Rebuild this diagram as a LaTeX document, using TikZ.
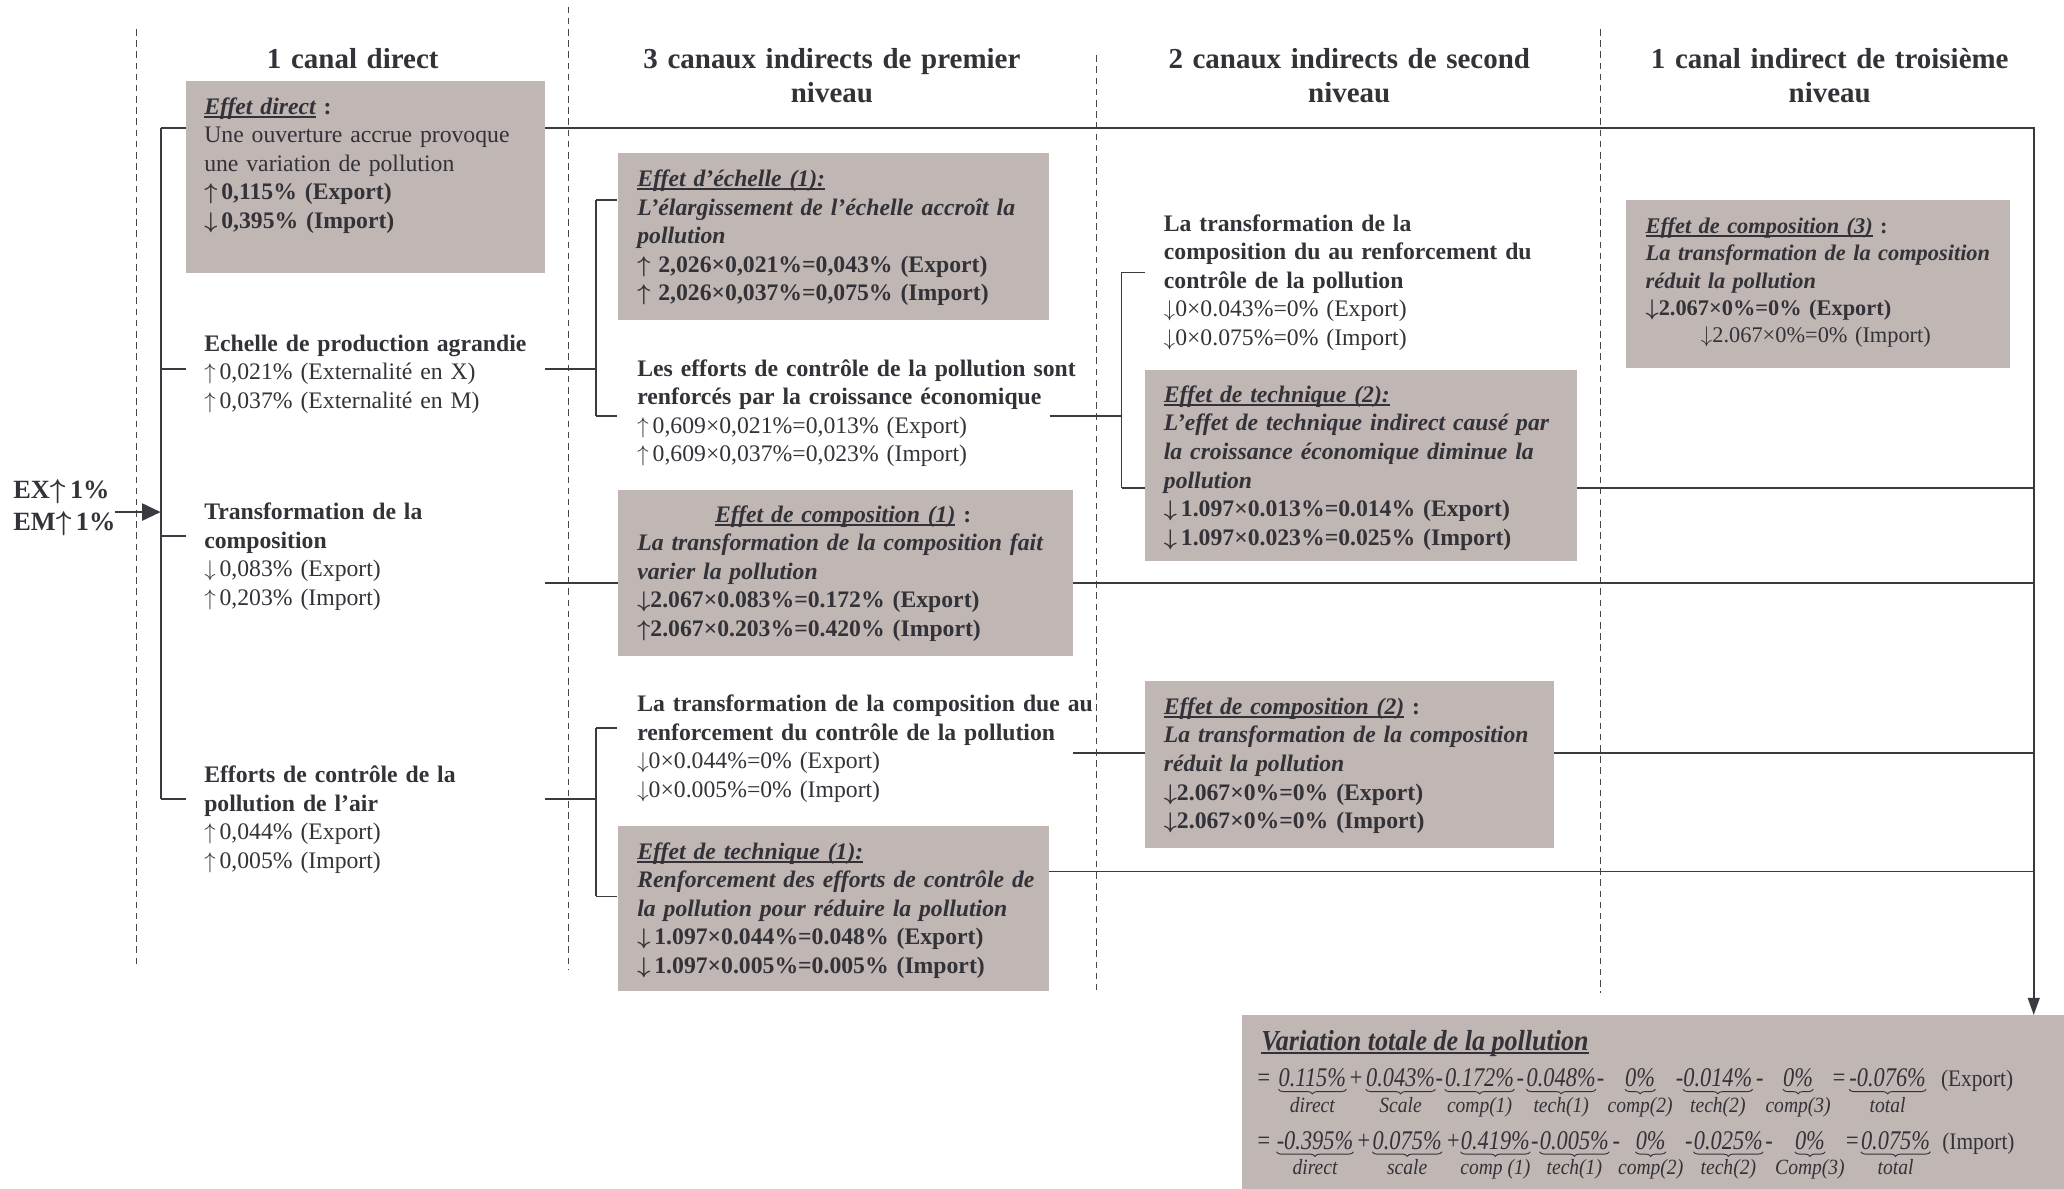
\documentclass[tikz,border=0pt]{standalone}
\usepackage{amsmath}
\usepackage{fontspec}
\setmainfont{Liberation Serif}
\newfontfamily\eqfam[FakeStretch=0.9]{Liberation Serif}
\newfontfamily\eqnumfam[FakeStretch=0.83]{Liberation Serif}
\usetikzlibrary{arrows.meta,decorations.pathreplacing}
\definecolor{boxgray}{RGB}{192,182,179}
\definecolor{ink}{RGB}{50,50,56}
\definecolor{linec}{RGB}{58,58,64}
\definecolor{sepc}{RGB}{70,70,76}
\newsavebox\myulbox
\newcommand\myul[1]{\leavevmode\sbox\myulbox{#1}\rlap{\rule[-2.6pt]{\wd\myulbox}{1.2pt}}\usebox\myulbox}
\pgfdeclarelayer{bg}
\pgfsetlayers{bg,main}
\newcommand\ftext{\fontsize{18}{21.7}\selectfont}
\newcommand\fsmall{\fontsize{17}{20.75}\selectfont}
\newcommand\fhead{\fontsize{22}{26}\selectfont\bfseries}
\newcommand\eqfont{\eqnumfam\fontsize{20.5}{24}\selectfont\itshape}
\newcommand\eqlfont{\eqfam\fontsize{16.5}{19}\selectfont\itshape}
\newcommand\bi[1]{\textbf{\textit{#1}}}
\newcommand\bul[1]{\textbf{\textit{\myul{#1}}}}
\newcommand\UA{\ensuremath{\uparrow}}
\newcommand\DA{\ensuremath{\downarrow}}
\newcommand\UAb{\ensuremath{\boldsymbol{\uparrow}}}
\newcommand\DAb{\ensuremath{\boldsymbol{\downarrow}}}
% name, x, baseline y, text, label
\newcommand\piece[5]{%
  \node[eqn] (#1) at (#2,#3) {#4};
  \draw[brc] ([yshift=-1.8pt]#1.south west) -- ([yshift=-1.8pt]#1.south east);
  \node[eql] (#1l) at (#2,#3+19.5) {#5};}
\begin{document}
\begin{tikzpicture}[x=1pt,y=-1pt,
  txt/.style={anchor=north west, inner sep=0pt, text width=420pt, align=left, text=ink, font=\ftext},
  head/.style={anchor=north, inner sep=0pt, text width=380pt, align=center, text=ink, font=\fhead},
  box/.style={anchor=north west, fill=boxgray, draw=none, inner sep=0pt},
  conn/.style={draw=linec, line width=1.4pt},
  sep/.style={draw=sepc, line width=0.9pt, dash pattern=on 5pt off 3.5pt},
  eqn/.style={anchor=base, inner sep=0pt, text=ink, font=\eqfont, text depth=0pt},
  eql/.style={anchor=base, inner sep=0pt, text=ink, font=\eqlfont},
  brc/.style={draw=ink, line width=0.7pt, decorate, decoration={brace, mirror, amplitude=3.5pt}}]
\useasboundingbox (0,0) rectangle (1568,903);

% ---------- boxes ----------
\node[box, minimum width=273pt, minimum height=146pt] (bdirect) at (141,61) {};
\node[box, minimum width=328pt, minimum height=127pt] (bech) at (469,116) {};
\node[box, minimum width=346pt, minimum height=126pt] (bcomp1) at (469,372) {};
\node[box, minimum width=328pt, minimum height=126pt] (btech1) at (469,627) {};
\node[box, minimum width=328pt, minimum height=145pt] (btech2) at (870,281) {};
\node[box, minimum width=310pt, minimum height=127pt] (bcomp2) at (870,517) {};
\node[box, minimum width=292pt, minimum height=127pt] (bcomp3) at (1235,152) {};
\node[box, minimum width=625pt, minimum height=132pt] (btot) at (943,771) {};

% ---------- headings ----------
\node[head] (h1) at (268,33.5) {\strut 1 canal direct};
\node[head] (h2) at (632,33.5) {\strut 3 canaux indirects de premier\\niveau};
\node[head] (h3) at (1025,33.5) {\strut 2 canaux indirects de second\\niveau};
\node[head] (h4) at (1390,33.5) {\strut 1 canal indirect de troisième\\niveau};

% ---------- input ----------
\node[anchor=north west, inner sep=0pt, align=left, text=ink, font=\fontsize{20}{24}\selectfont\bfseries] (inp) at (10,362) {\strut EX\UAb\,1\%\\EM\UAb\,1\%};

% ---------- column 1 ----------
\node[txt] (tdirect) at (155,71.3) {\strut\bul{Effet direct}\textbf{ :}\\
Une ouverture accrue provoque\\
une variation de pollution\\
\textbf{\UAb\,0,115\% (Export)}\\
\textbf{\DAb\,0,395\% (Import)}};
\node[txt] (tech) at (155,251.3) {\strut\textbf{Echelle de production agrandie}\\
\UA\,0,021\% (Externalité en X)\\
\UA\,0,037\% (Externalité en M)};
\node[txt] (ttransf) at (155,379.3) {\strut\textbf{Transformation de la}\\
\textbf{composition}\\
\DA\,0,083\% (Export)\\
\UA\,0,203\% (Import)};
\node[txt] (teff) at (155,579.3) {\strut\textbf{Efforts de contrôle de la}\\
\textbf{pollution de l’air}\\
\UA\,0,044\% (Export)\\
\UA\,0,005\% (Import)};

% ---------- column 2 ----------
\node[txt] (techtxt) at (484,126.3) {\strut\bul{Effet d’échelle (1):}\\
\bi{L’élargissement de l’échelle accroît la}\\
\bi{pollution}\\
\textbf{\UAb\ 2,026×0,021\%=0,043\% (Export)}\\
\textbf{\UAb\ 2,026×0,037\%=0,075\% (Import)}};
\node[txt] (tefforts2) at (484,270.3) {\strut\textbf{Les efforts de contrôle de la pollution sont}\\
\textbf{renforcés par la croissance économique}\\
\UA\,0,609×0,021\%=0,013\% (Export)\\
\UA\,0,609×0,037\%=0,023\% (Import)};
\node[txt] (tcomp1) at (484,381.3) {\strut\hspace*{59pt}\bul{Effet de composition (1)}\textbf{ :}\\
\bi{La transformation de la composition fait}\\
\bi{varier la pollution}\\
\textbf{\DAb2.067×0.083\%=0.172\% (Export)}\\
\textbf{\UAb2.067×0.203\%=0.420\% (Import)}};
\node[txt] (ttransf2) at (484,525.3) {\strut\textbf{La transformation de la composition due au}\\
\textbf{renforcement du contrôle de la pollution}\\
\DA0×0.044\%=0\% (Export)\\
\DA0×0.005\%=0\% (Import)};
\node[txt] (ttech1) at (484,637.3) {\strut\bul{Effet de technique (1):}\\
\bi{Renforcement des efforts de contrôle de}\\
\bi{la pollution pour réduire la pollution}\\
\textbf{\DAb\,1.097×0.044\%=0.048\% (Export)}\\
\textbf{\DAb\,1.097×0.005\%=0.005\% (Import)}};

% ---------- column 3 ----------
\node[txt] (ttransf3) at (884,160.3) {\strut\textbf{La transformation de la}\\
\textbf{composition du au renforcement du}\\
\textbf{contrôle de la pollution}\\
\DA0×0.043\%=0\% (Export)\\
\DA0×0.075\%=0\% (Import)};
\node[txt] (ttech2) at (884,290.3) {\strut\bul{Effet de technique (2):}\\
\bi{L’effet de technique indirect causé par}\\
\bi{la croissance économique diminue la}\\
\bi{pollution}\\
\textbf{\DAb\,1.097×0.013\%=0.014\% (Export)}\\
\textbf{\DAb\,1.097×0.023\%=0.025\% (Import)}};
\node[txt] (tcomp2) at (884,527.3) {\strut\bul{Effet de composition (2)}\textbf{ :}\\
\bi{La transformation de la composition}\\
\bi{réduit la pollution}\\
\textbf{\DAb2.067×0\%=0\% (Export)}\\
\textbf{\DAb2.067×0\%=0\% (Import)}};

% ---------- column 4 ----------
\node[txt, font=\fsmall] (tcomp3) at (1250,162.7) {\strut\bul{Effet de composition (3)}\textbf{ :}\\
\bi{La transformation de la composition}\\
\bi{réduit la pollution}\\
\textbf{\DAb2.067×0\%=0\% (Export)}\\
\hspace*{42pt}\DA2.067×0\%=0\% (Import)};

% ---------- total ----------
\node[anchor=north west, inner sep=0pt, text=ink, font=\eqfam\fontsize{22}{26}\selectfont] (ttot) at (958,779.5) {\strut\bul{Variation totale de la pollution}};

\node[eqn] (xeq) at (960,825.5) {=};
\piece{x1}{997}{825.5}{0.115\%}{direct}
\node[eqn] (xp1) at (1030,825.5) {+};
\piece{x2}{1064}{825.5}{0.043\%}{Scale}
\node[eqn] (xm1) at (1093.5,825.5) {-};
\piece{x3}{1124}{825.5}{0.172\%}{comp(1)}
\node[eqn] (xm2) at (1155,825.5) {-};
\piece{x4}{1186}{825.5}{0.048\%}{tech(1)}
\node[eqn] (xm3) at (1216,825.5) {-};
\piece{x5}{1246}{825.5}{0\%}{comp(2)}
\node[eqn] (xm4) at (1276,825.5) {-};
\piece{x6}{1305}{825.5}{0.014\%}{tech(2)}
\node[eqn] (xm5) at (1337,825.5) {-};
\piece{x7}{1366}{825.5}{0\%}{comp(3)}
\node[eqn] (xeq2) at (1397,825.5) {=};
\piece{x8}{1434}{825.5}{-0.076\%}{total}
\node[eqn, font=\eqfam\fontsize{18}{22}\selectfont] (xlab) at (1502,825.5) {(Export)};

\node[eqn] (meq) at (960,873) {=};
\piece{m1}{999}{873}{-0.395\%}{direct}
\node[eqn] (mp1) at (1036,873) {+};
\piece{m2}{1069}{873}{0.075\%}{scale}
\node[eqn] (mp2) at (1104,873) {+};
\piece{m3}{1136}{873}{0.419\%}{comp (1)}
\node[eqn] (mm1) at (1166,873) {-};
\piece{m4}{1196}{873}{0.005\%}{tech(1)}
\node[eqn] (mm2) at (1228,873) {-};
\piece{m5}{1254}{873}{0\%}{comp(2)}
\node[eqn] (mm3) at (1283,873) {-};
\piece{m6}{1313}{873}{0.025\%}{tech(2)}
\node[eqn] (mm4) at (1344,873) {-};
\piece{m7}{1375}{873}{0\%}{Comp(3)}
\node[eqn] (meq2) at (1407,873) {=};
\piece{m8}{1440}{873}{0.075\%}{total}
\node[eqn, font=\eqfam\fontsize{18}{22}\selectfont] (mlab) at (1503,873) {(Import)};

% ---------- coordinates ----------
\coordinate (c1t) at (122,97);
\coordinate (c1e) at (122,280);
\coordinate (c1m) at (122,389);
\coordinate (c1c) at (122,407);
\coordinate (c1b) at (122,607);
\coordinate (exin) at (87,389);
\coordinate (rtop) at (1545,97);
\coordinate (tr) at (414,443);
\coordinate (c2ut) at (453,152);
\coordinate (c2um) at (453,280);
\coordinate (c2ub) at (453,316);
\coordinate (c2lt) at (453,553);
\coordinate (c2lm) at (453,607);
\coordinate (c2lb) at (453,681);
\coordinate (c3t) at (852,207);
\coordinate (c3m) at (852,316);
\coordinate (c3b) at (852,371);
\coordinate (t2r) at (815,572);
\coordinate (t1r) at (797,662);

\begin{pgfonlayer}{bg}
% separators
\draw[sep] (104,22) -- (104,735);
\draw[sep] (432,5) -- (432,737);
\draw[sep] (833,42) -- (833,752);
\draw[sep] (1216,22) -- (1216,754);
% input arrow
\draw[conn,-{Triangle[length=14pt,width=13pt]}] (exin) -- (c1m);
% column 1 bracket
\draw[conn] (c1t) -- (c1b);
\draw[conn,-{Triangle[length=13pt,width=9pt]}] (c1t) -- (rtop) -- (rtop |- btot.north);
\draw[conn] (c1e) -- (c1e -| bdirect.west);
\draw[conn] (c1c) -- (c1c -| bdirect.west);
\draw[conn] (c1b) -- (c1b -| bdirect.west);
\draw[conn] (c1e -| bdirect.east) -- (c2um);
\draw[conn] (tr) -- (tr -| rtop);
\draw[conn] (c1b -| bdirect.east) -- (c2lm);
% column 2 brackets
\draw[conn] (c2ut) -- (c2ub);
\draw[conn] (c2ut) -- (c2ut -| bech.west);
\draw[conn] (c2ub) -- (c2ub -| bech.west);
\draw[conn] (c2ub -| bech.east) -- (c3m);
\draw[conn] (c2lt) -- (c2lb);
\draw[conn] (c2lt) -- (c2lt -| btech1.west);
\draw[conn] (c2lb) -- (c2lb -| btech1.west);
\draw[conn] (t2r) -- (t2r -| rtop);
\draw[conn] (t1r) -- (t1r -| rtop);
% column 3 bracket
\draw[conn] (c3t) -- (c3b);
\draw[conn] (c3t) -- (c3t -| btech2.west);
\draw[conn] (c3b) -- (c3b -| rtop);
\end{pgfonlayer}
\end{tikzpicture}
\end{document}
